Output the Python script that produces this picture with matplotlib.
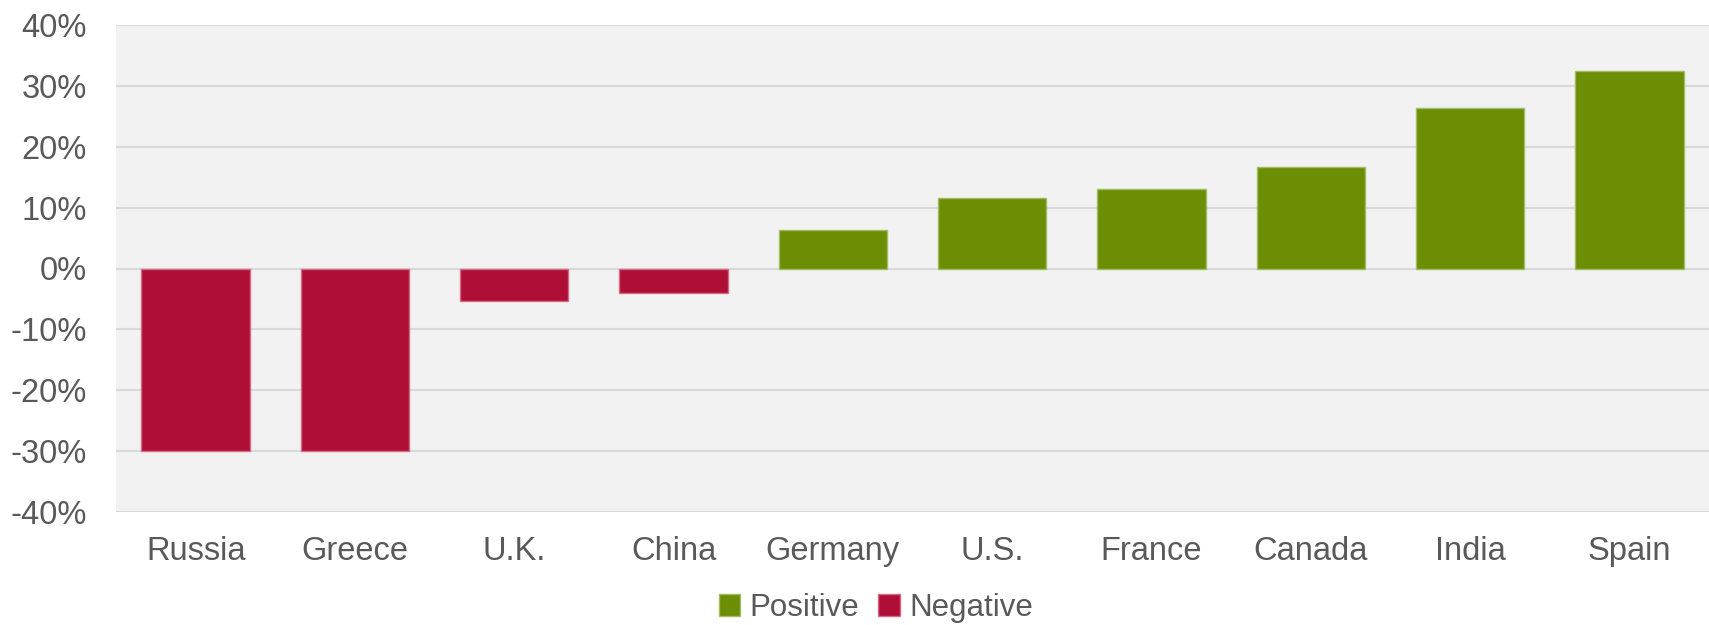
import matplotlib.pyplot as plt
import matplotlib.ticker as mticker
import numpy as np

countries = ['Russia', 'Greece', 'U.K.', 'China', 'Germany', 'U.S.',
             'France', 'Canada', 'India', 'Spain']
values = [-30.0, -29.9, -5.3, -4.0, 6.4, 11.5, 13.1, 16.6, 26.3, 32.4]

green = '#6B8E05'
red = '#AF0E36'
text_color = '#595959'

plt.rcParams['font.family'] = ['Liberation Sans', 'DejaVu Sans']

fig = plt.figure(figsize=(17.09, 6.25), dpi=100)
ax = fig.add_axes([116 / 1709, 1 - 512 / 625, 1 - 116 / 1709, (512 - 25) / 625])
ax.set_facecolor('#F2F2F2')

x = np.arange(len(countries))
vals = np.array(values)
pos = vals >= 0

ax.bar(x[pos], vals[pos], width=0.68, color=green, edgecolor='#A3BC63',
       linewidth=1, label='Positive', zorder=3)
ax.bar(x[~pos], vals[~pos], width=0.68, color=red, edgecolor='#D66A85',
       linewidth=1, label='Negative', zorder=3)

ax.set_xlim(-0.5, len(countries) - 0.5)
ax.set_ylim(-40, 40)
ax.yaxis.set_major_locator(mticker.MultipleLocator(10))
ax.yaxis.set_major_formatter(mticker.FuncFormatter(lambda v, p: f'{v:.0f}%'))
ax.grid(axis='y', color='#D9D9D9', linewidth=1.5, zorder=0)
ax.set_xticks(x)
ax.set_xticklabels(countries)

for s in ax.spines.values():
    s.set_visible(False)
ax.tick_params(axis='both', length=0, labelsize=23.5, colors=text_color)
ax.tick_params(axis='y', pad=21)
ax.tick_params(axis='x', pad=17.5)

fig.legend(loc='center', bbox_to_anchor=(876 / 1709, 1 - 608 / 625), ncol=2,
           frameon=False, fontsize=22.5, labelcolor=text_color,
           handlelength=0.7, handleheight=0.7, handletextpad=0.3,
           columnspacing=0.6, borderpad=0)

fig.savefig('out.png', dpi=100)
